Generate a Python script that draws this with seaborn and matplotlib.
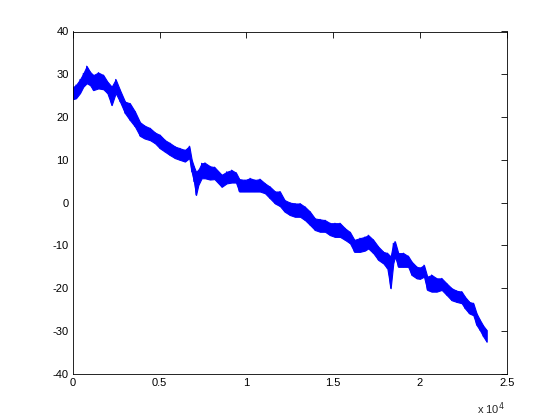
import matplotlib
matplotlib.use("Agg")
import matplotlib.pyplot as plt
import seaborn as sns
import pandas as pd

# sample positions along the signal and the lower / upper edges of the noisy band
x_pos = [20, 185, 415, 605, 800, 990, 1180, 1470, 1760, 1990, 2240, 2470, 2720,
         3010, 3290, 3580, 3870, 4130, 4450, 4730, 5020, 5310, 5600, 5890, 6170,
         6460, 6710, 6850, 6980, 7100, 7230, 7420, 7610, 7900, 8160, 8580, 8860,
         9150, 9400, 9590, 9920, 10210, 10490, 10780, 11070, 11360, 11650, 11930,
         12200, 12510, 12800, 13090, 13380, 13660, 13950, 14240, 14530, 14820,
         15100, 15390, 15680, 15970, 16220, 16540, 16830, 17020, 17310, 17600,
         17890, 18120, 18310, 18460, 18560, 18750, 19040, 19320, 19520, 19810,
         20000, 20230, 20420, 20670, 20960, 21250, 21540, 21820, 22110, 22400,
         22590, 22840, 23070, 23260, 23450, 23650, 23840]
y_low = [24.2, 24.4, 25.6, 27.1, 27.9, 27.5, 26.3, 26.7, 26.5, 25.6, 22.8, 25.6, 23.6,
         20.9, 19.3, 17.8, 15.6, 15.0, 14.6, 13.9, 12.7, 11.9, 11.1, 10.4, 10.0,
         9.6, 10.4, 7.2, 4.9, 1.8, 4.1, 5.7, 5.7, 5.4, 5.5, 3.7, 4.5,
         4.7, 4.7, 2.6, 2.6, 2.6, 2.6, 2.6, 2.2, 1.0, -0.2, -0.8,
         -2.1, -2.9, -3.3, -3.3, -4.1, -5.2, -6.4, -6.8, -6.8, -7.6,
         -8.0, -8.0, -8.7, -9.5, -11.5, -11.5, -11.2, -10.7, -11.8, -13.4,
         -14.2, -15.4, -20.0, -14.2, -12.6, -15.0, -15.0, -15.0, -16.9, -17.7,
         -17.8, -17.3, -20.4, -20.8, -20.8, -20.4, -21.6, -22.8, -23.2, -23.5,
         -24.7, -25.9, -26.3, -28.6, -29.8, -31.3, -32.5]
y_high = [27.0, 27.5, 28.8, 30.2, 31.9, 30.6, 29.8, 30.4, 29.8, 28.3, 27.1, 28.8, 26.3,
          23.6, 23.2, 21.3, 18.8, 18.0, 17.4, 16.4, 15.8, 14.6, 13.9, 13.1, 12.7,
          12.3, 13.2, 10.0, 8.4, 7.2, 7.6, 9.2, 9.3, 8.5, 8.3, 6.5, 7.2,
          7.6, 7.0, 5.5, 5.3, 5.7, 5.3, 5.5, 4.5, 3.7, 2.6, 2.6,
          0.6, 0.0, -0.2, -0.2, -1.0, -2.1, -3.7, -3.9, -4.1, -4.8,
          -4.8, -4.8, -6.0, -6.9, -8.7, -8.3, -8.0, -7.6, -8.7, -10.3,
          -11.5, -11.8, -12.6, -9.5, -9.1, -11.8, -11.8, -12.5, -13.8, -15.0,
          -15.2, -14.6, -17.3, -16.9, -17.7, -17.7, -18.9, -20.0, -20.6, -20.8,
          -22.0, -23.2, -23.5, -25.9, -27.4, -28.8, -29.8]

x_ticks = [0, 5000, 10000, 15000, 20000, 25000]
x_tick_labels = ["0", "0.5", "1", "1.5", "2", "2.5"]
y_ticks = [-40, -30, -20, -10, 0, 10, 20, 30, 40]

sns.set_style("white")
plt.rcParams["font.family"] = ["Liberation Sans", "DejaVu Sans"]

# trace: go down and up at each sample, like a dense noisy signal
trace_x, trace_y = [], []
for xv, lo, hi in zip(x_pos, y_low, y_high):
    trace_x += [xv, xv]
    trace_y += [lo, hi]
df = pd.DataFrame({"x": trace_x, "y": trace_y})

fig = plt.figure(figsize=(5.6, 4.2), dpi=100)
ax = fig.add_axes([0.13, 0.11, 0.775, 0.815])
ax.fill_between(x_pos, y_low, y_high, color="#0000ff", linewidth=0.8, edgecolor="#0000ff")
sns.lineplot(data=df, x="x", y="y", sort=False, estimator=None, color="#0000ff",
             linewidth=0.8, ax=ax)

ax.set_xlim(0, 25000)
ax.set_ylim(-40, 40)
ax.set_xticks(x_ticks)
ax.set_xticklabels(x_tick_labels)
ax.set_yticks(y_ticks)
ax.set_yticklabels([str(v) for v in y_ticks])
ax.set_xlabel("")
ax.set_ylabel("")
ax.tick_params(direction="in", top=True, right=True, length=4, width=0.6,
               labelsize=8, colors="black", pad=3)
for s in ax.spines.values():
    s.set_visible(True)
    s.set_color("black")
    s.set_linewidth(0.6)

fig.text(0.852, 0.006, r"x 10$^{4}$", fontsize=8, ha="left", va="bottom")

fig.savefig("out.png", dpi=100, facecolor="white")
